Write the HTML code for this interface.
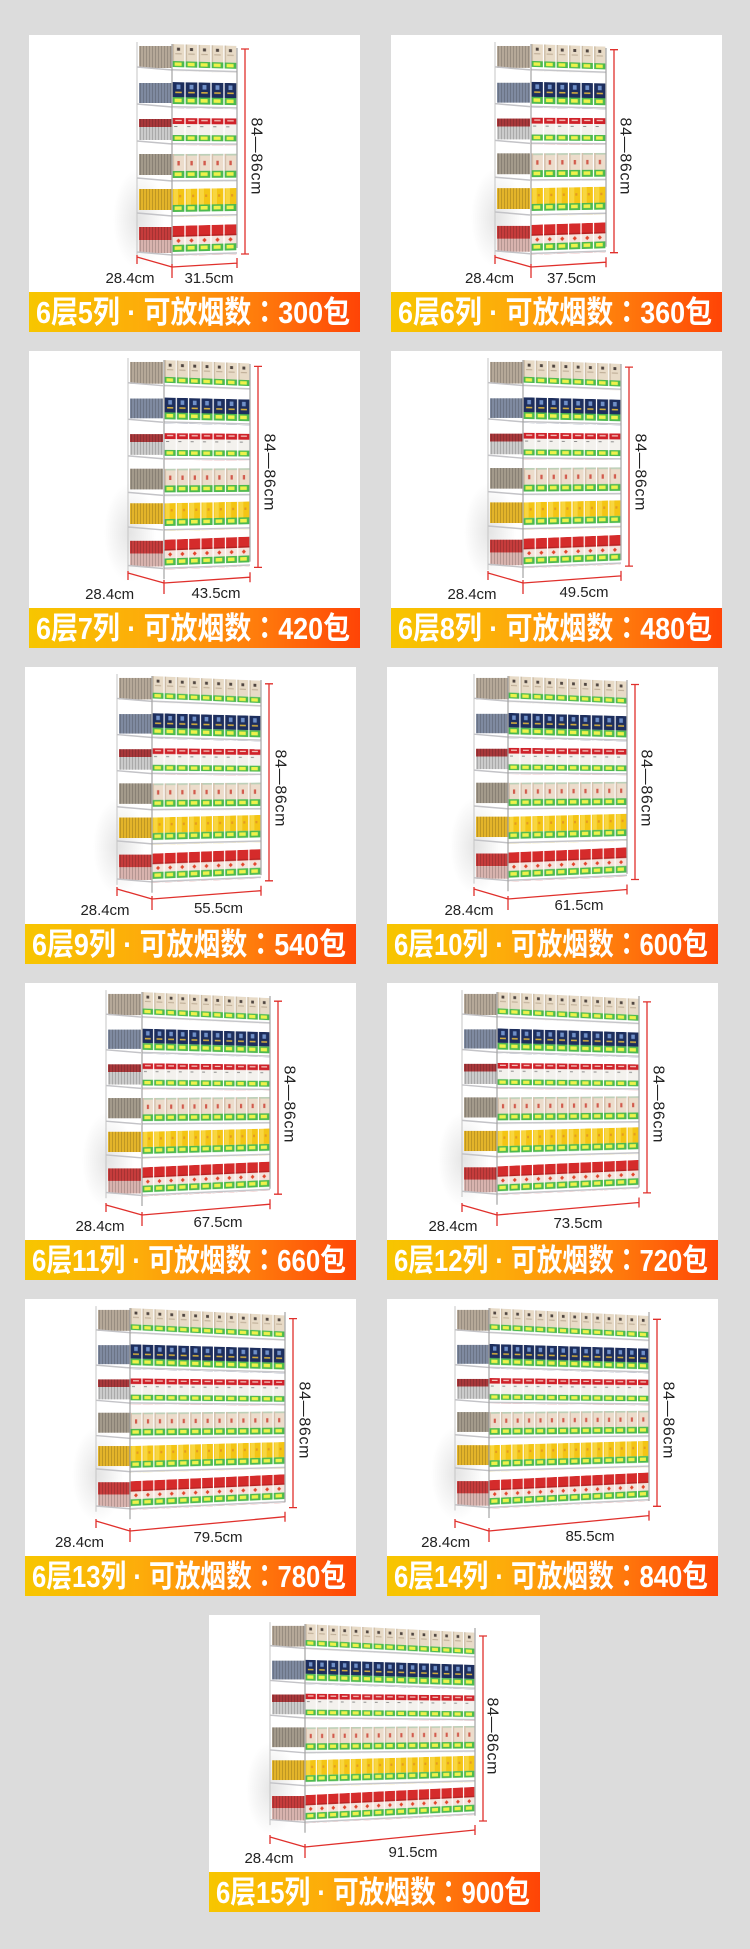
<!DOCTYPE html>
<html><head><meta charset="utf-8"><style>
html,body{margin:0;padding:0;background:#dcdcdc;}
svg{display:block;}
.l{font-family:"Liberation Sans",sans-serif;font-size:15px;fill:#222;text-anchor:middle;}
.v{font-family:"Liberation Sans",sans-serif;font-size:16px;fill:#222;text-anchor:middle;dominant-baseline:central;}
.b{font-family:"Liberation Sans","Noto Sans CJK SC",sans-serif;font-size:31px;font-weight:bold;fill:#fff;}
.c{font-family:"Noto Sans CJK TC","Noto Sans CJK JP",sans-serif;}
.fr{stroke:#a4a4a4;stroke-width:1.2;fill:none;}
.rd{stroke:#e0302c;stroke-width:1.3;fill:none;}
</style></head><body>
<svg width="750" height="1949" viewBox="0 0 750 1949" xmlns="http://www.w3.org/2000/svg">
<defs>
<linearGradient id="bn" x1="0" y1="0" x2="1" y2="0">
<stop offset="0" stop-color="#f7c600"/><stop offset=".35" stop-color="#fdac0a"/><stop offset=".7" stop-color="#ff7a0c"/><stop offset="1" stop-color="#ff4406"/>
</linearGradient>
<radialGradient id="sh"><stop offset="0" stop-color="#cfcfcf" stop-opacity=".55"/><stop offset="1" stop-color="#cfcfcf" stop-opacity="0"/></radialGradient>
<pattern id="st" width="3" height="10" patternUnits="userSpaceOnUse"><rect width="1" height="10" fill="#000" fill-opacity=".16"/></pattern>
<pattern id="p1" width="12" height="27" patternUnits="userSpaceOnUse">
<rect x=".6" width="10.8" height="17" fill="#e8dbc7"/><rect x=".6" width="1.3" height="17" fill="#cbbba5"/>
<rect x="4.6" y="3.5" width="2.8" height="3" fill="#4f4540"/><rect x="3" y="9" width="6" height="1.2" fill="#c2b19a"/>
<rect x=".6" y="17" width="10.8" height="6" fill="#4cb94e"/><rect x="2.4" y="18.3" width="6.5" height="3.4" fill="#eef24a"/>
<rect y="25" width="12" height="1.6" fill="#c5c5c9"/>
</pattern>
<pattern id="p2" width="12" height="26" patternUnits="userSpaceOnUse">
<rect x=".6" width="10.8" height="15" fill="#1d2e5d"/><rect x="4.2" y="2.5" width="3.6" height="4.5" fill="#7090c8"/>
<rect x="3" y="9.5" width="6" height="1.6" fill="#d4ae3e"/>
<rect x=".6" y="15" width="10.8" height="7" fill="#4cb94e"/><rect x="2.4" y="16.5" width="6.5" height="3.6" fill="#eef24a"/>
<rect y="24" width="12" height="1.6" fill="#c5c5c9"/>
</pattern>
<pattern id="p3" width="12" height="27" patternUnits="userSpaceOnUse">
<rect x=".6" width="10.8" height="6" fill="#cf2129"/><rect x="3" y="1.8" width="6" height="1.3" fill="#f2c8c0"/>
<rect x=".6" y="6" width="10.8" height="11" fill="#f3f1ed"/><rect x="2" y="8" width="3" height="1" fill="#8a8a8a"/>
<rect x=".6" y="17" width="10.8" height="6" fill="#4cb94e"/><rect x="2.4" y="18.3" width="6.5" height="3.4" fill="#eef24a"/>
<rect y="25" width="12" height="1.6" fill="#c5c5c9"/>
</pattern>
<pattern id="p4" width="12" height="28" patternUnits="userSpaceOnUse">
<rect x=".6" width="10.8" height="17" fill="#ecdccb"/><rect x=".6" width="10.8" height="1.8" fill="#bcd0b8"/>
<rect x=".6" width="1.4" height="17" fill="#d4c0ac"/><rect x="5" y="7" width="2.2" height="4.5" fill="#d25a4c"/>
<rect x=".6" y="17" width="10.8" height="7" fill="#4cb94e"/><rect x="2.4" y="18.5" width="6.5" height="3.6" fill="#eef24a"/>
<rect y="26" width="12" height="1.6" fill="#c5c5c9"/>
</pattern>
<pattern id="p5" width="12" height="28" patternUnits="userSpaceOnUse">
<rect x=".6" width="10.8" height="16" fill="#f4c514"/><rect x="1.5" width="4" height="16" fill="#f8d640"/>
<rect x="6.5" y="6" width="2" height="2.5" fill="#e49a22"/>
<rect x=".6" y="16" width="10.8" height="7" fill="#4cb94e"/><rect x="2.4" y="17.5" width="6.5" height="3.6" fill="#eef24a"/>
<rect y="26" width="12" height="1.6" fill="#c5c5c9"/>
</pattern>
<pattern id="p6" width="12" height="30" patternUnits="userSpaceOnUse">
<rect x=".6" width="10.8" height="11" fill="#d52b2b"/><rect x=".6" y="9.5" width="10.8" height="1.5" fill="#b52222"/>
<rect x=".6" y="11" width="10.8" height="8" fill="#f4e3dc"/><path d="M6 12.8L8 15L6 17.2L4 15Z" fill="#e2442a"/>
<rect x=".6" y="19" width="10.8" height="7" fill="#4cb94e"/><rect x="2.4" y="20.5" width="6.5" height="3.6" fill="#eef24a"/>
<rect y="28" width="12" height="1.6" fill="#c5c5c9"/>
</pattern>
<g id="side">
<ellipse cx="2" cy="175" rx="26" ry="50" fill="url(#sh)"/>
<rect x="2" y="2" width="33" height="22" fill="#b5a898"/>
<rect x="2" y="39" width="33" height="20" fill="#7f8aa0"/>
<rect x="2" y="75" width="33" height="8" fill="#a8383b"/>
<rect x="2" y="83" width="33" height="13" fill="#cbcbcb"/>
<rect x="2" y="110" width="33" height="21" fill="#a39a8b"/>
<rect x="2" y="145" width="33" height="21" fill="#e3b42a"/>
<rect x="2" y="183" width="33" height="13" fill="#c63c3c"/>
<rect x="2" y="196" width="33" height="13" fill="#d8b3ae"/>
<rect x="2" y="2" width="33" height="22" fill="url(#st)"/>
<rect x="2" y="39" width="33" height="20" fill="url(#st)"/>
<rect x="2" y="75" width="33" height="21" fill="url(#st)"/>
<rect x="2" y="110" width="33" height="21" fill="url(#st)"/>
<rect x="2" y="145" width="33" height="21" fill="url(#st)"/>
<rect x="2" y="183" width="33" height="26" fill="url(#st)"/>
<path d="M0 23L35 26M0 60L35 63M0 97L35 100M0 134L35 137M0 169L35 172M0 208L35 211" stroke="#c3c3c7" stroke-width="1.5" fill="none"/>
<path d="M0 -2V214" stroke="#c4c4c4" stroke-width="1" fill="none"/>
</g>
</defs>
<rect width="750" height="1949" fill="#dcdcdc"/>

<!-- Panel 1 -->
<rect x="29" y="35" width="331" height="297" fill="#fff"/>
<use href="#side" transform="translate(137,44)"/>
<rect width="60" height="27" fill="url(#p1)" transform="matrix(1.083 .031 0 1 172 44)"/>
<rect width="60" height="26" fill="url(#p2)" transform="matrix(1.083 .019 0 1 172 82)"/>
<rect width="60" height="27" fill="url(#p3)" transform="matrix(1.083 .0065 0 1 172 118)"/>
<rect width="60" height="28" fill="url(#p4)" transform="matrix(1.083 -.0057 0 1 172 154)"/>
<rect width="60" height="28" fill="url(#p5)" transform="matrix(1.083 -.017 0 1 172 189)"/>
<rect width="60" height="30" fill="url(#p6)" transform="matrix(1.083 -.03 0 1 172 226)"/>
<path class="fr" d="M172 44V266M237 48V248"/>
<path class="rd" d="M245 49V254M241 49H249M241 254H249M137 255V264M137 257L172 267M172 264V278M172 267L237 263.1M237 258V268"/>
<text class="v" transform="translate(256,156) rotate(90)" textLength="77">84—86cm</text>
<text class="l" x="130" y="283" textLength="49">28.4cm</text>
<text class="l" x="209" y="283" textLength="49">31.5cm</text>
<rect x="29" y="292" width="331" height="40" fill="url(#bn)"/>
<text class="b" x="36" y="323" textLength="314" lengthAdjust="spacingAndGlyphs">6层5列 · 可放烟数<tspan class="c">：</tspan>300包</text>

<!-- Panel 2 -->
<rect x="391" y="35" width="331" height="297" fill="#fff"/>
<use href="#side" transform="translate(495,44) scale(1,.994)"/>
<rect width="72" height="27" fill="url(#p1)" transform="matrix(1.042 .036 0 .994 531 44)"/>
<rect width="72" height="26" fill="url(#p2)" transform="matrix(1.042 .022 0 .994 531 81.8)"/>
<rect width="72" height="27" fill="url(#p3)" transform="matrix(1.042 .0075 0 .994 531 117.6)"/>
<rect width="72" height="28" fill="url(#p4)" transform="matrix(1.042 -.0066 0 .994 531 153.3)"/>
<rect width="72" height="28" fill="url(#p5)" transform="matrix(1.042 -.02 0 .994 531 188.1)"/>
<rect width="72" height="30" fill="url(#p6)" transform="matrix(1.042 -.035 0 .994 531 224.9)"/>
<path class="fr" d="M531 44V264.7M606 48V246.8"/>
<path class="rd" d="M614 49.7V252.7M610 49.7H618M610 252.7H618M495 255V264M495 257L531 267M531 264V278M531 267L606 262.2M606 257.2V267.2"/>
<text class="v" transform="translate(625,156) rotate(90)" textLength="77">84—86cm</text>
<text class="l" x="489.5" y="283" textLength="49">28.4cm</text>
<text class="l" x="571.5" y="283" textLength="49">37.5cm</text>
<rect x="391" y="292" width="331" height="40" fill="url(#bn)"/>
<text class="b" x="398" y="323" textLength="314" lengthAdjust="spacingAndGlyphs">6层6列 · 可放烟数<tspan class="c">：</tspan>360包</text>

<!-- Panel 3 -->
<rect x="29" y="351" width="331" height="297" fill="#fff"/>
<use href="#side" transform="translate(128,360) scale(1,.988)"/>
<rect width="84" height="27" fill="url(#p1)" transform="matrix(1.024 .04 0 .988 164 360)"/>
<rect width="84" height="26" fill="url(#p2)" transform="matrix(1.024 .024 0 .988 164 397.5)"/>
<rect width="84" height="27" fill="url(#p3)" transform="matrix(1.024 .0083 0 .988 164 433.1)"/>
<rect width="84" height="28" fill="url(#p4)" transform="matrix(1.024 -.0072 0 .988 164 468.7)"/>
<rect width="84" height="28" fill="url(#p5)" transform="matrix(1.024 -.022 0 .988 164 503.3)"/>
<rect width="84" height="30" fill="url(#p6)" transform="matrix(1.024 -.038 0 .988 164 539.8)"/>
<path class="fr" d="M164 360V579.3M250 364V561.6"/>
<path class="rd" d="M258 366.4V567.4M254 366.4H262M254 567.4H262M128 571V580M128 573L164 583M164 580V594M164 583L250 577.2M250 572.2V582.2"/>
<text class="v" transform="translate(269,472) rotate(90)" textLength="77">84—86cm</text>
<text class="l" x="109.6" y="599" textLength="49">28.4cm</text>
<text class="l" x="216" y="598" textLength="49">43.5cm</text>
<rect x="29" y="608" width="331" height="40" fill="url(#bn)"/>
<text class="b" x="36" y="639" textLength="314" lengthAdjust="spacingAndGlyphs">6层7列 · 可放烟数<tspan class="c">：</tspan>420包</text>

<!-- Panel 4 -->
<rect x="391" y="351" width="331" height="297" fill="#fff"/>
<use href="#side" transform="translate(488,360) scale(1,.982)"/>
<rect width="96" height="27" fill="url(#p1)" transform="matrix(1.021 .041 0 .982 523 360)"/>
<rect width="96" height="26" fill="url(#p2)" transform="matrix(1.021 .025 0 .982 523 397.3)"/>
<rect width="96" height="27" fill="url(#p3)" transform="matrix(1.021 .0086 0 .982 523 432.7)"/>
<rect width="96" height="28" fill="url(#p4)" transform="matrix(1.021 -.0075 0 .982 523 468)"/>
<rect width="96" height="28" fill="url(#p5)" transform="matrix(1.021 -.023 0 .982 523 502.4)"/>
<rect width="96" height="30" fill="url(#p6)" transform="matrix(1.021 -.04 0 .982 523 538.7)"/>
<path class="fr" d="M523 360V578M621 364V560.3"/>
<path class="rd" d="M629 367.1V566.1M625 367.1H633M625 566.1H633M488 571V580M488 573L523 583M523 580V594M523 583L621 575.9M621 570.9V580.9"/>
<text class="v" transform="translate(640,472) rotate(90)" textLength="77">84—86cm</text>
<text class="l" x="472" y="599" textLength="49">28.4cm</text>
<text class="l" x="584" y="597" textLength="49">49.5cm</text>
<rect x="391" y="608" width="331" height="40" fill="url(#bn)"/>
<text class="b" x="398" y="639" textLength="314" lengthAdjust="spacingAndGlyphs">6层8列 · 可放烟数<tspan class="c">：</tspan>480包</text>

<!-- Panel 5 -->
<rect x="25" y="667" width="331" height="297" fill="#fff"/>
<use href="#side" transform="translate(117,676) scale(1,.976)"/>
<rect width="108" height="27" fill="url(#p1)" transform="matrix(1.009 .043 0 .976 152 676)"/>
<rect width="108" height="26" fill="url(#p2)" transform="matrix(1.009 .026 0 .976 152 713.1)"/>
<rect width="108" height="27" fill="url(#p3)" transform="matrix(1.009 .009 0 .976 152 748.2)"/>
<rect width="108" height="28" fill="url(#p4)" transform="matrix(1.009 -.0078 0 .976 152 783.4)"/>
<rect width="108" height="28" fill="url(#p5)" transform="matrix(1.009 -.024 0 .976 152 817.5)"/>
<rect width="108" height="30" fill="url(#p6)" transform="matrix(1.009 -.0415 0 .976 152 853.6)"/>
<path class="fr" d="M152 676V892.7M261 680V875.1"/>
<path class="rd" d="M269 683.8V880.8M265 683.8H273M265 880.8H273M117 887V896M117 889L152 899M152 896V910M152 899L261 890.7M261 885.7V895.7"/>
<text class="v" transform="translate(280,788) rotate(90)" textLength="77">84—86cm</text>
<text class="l" x="105" y="915" textLength="49">28.4cm</text>
<text class="l" x="218.5" y="913" textLength="49">55.5cm</text>
<rect x="25" y="924" width="331" height="40" fill="url(#bn)"/>
<text class="b" x="32" y="955" textLength="314" lengthAdjust="spacingAndGlyphs">6层9列 · 可放烟数<tspan class="c">：</tspan>540包</text>

<!-- Panel 6 -->
<rect x="387" y="667" width="331" height="297" fill="#fff"/>
<use href="#side" transform="translate(474,676) scale(1,.97)"/>
<rect width="120" height="27" fill="url(#p1)" transform="matrix(.992 .045 0 .97 508 676)"/>
<rect width="120" height="26" fill="url(#p2)" transform="matrix(.992 .027 0 .97 508 712.9)"/>
<rect width="120" height="27" fill="url(#p3)" transform="matrix(.992 .0093 0 .97 508 747.8)"/>
<rect width="120" height="28" fill="url(#p4)" transform="matrix(.992 -.0081 0 .97 508 782.7)"/>
<rect width="120" height="28" fill="url(#p5)" transform="matrix(.992 -.025 0 .97 508 816.7)"/>
<rect width="120" height="30" fill="url(#p6)" transform="matrix(.992 -.043 0 .97 508 852.5)"/>
<path class="fr" d="M508 676V891.3M627 680V873.9"/>
<path class="rd" d="M635 684.5V879.5M631 684.5H639M631 879.5H639M474 887V896M474 889L508 899M508 896V910M508 899L627 889.5M627 884.5V894.5"/>
<text class="v" transform="translate(646,788) rotate(90)" textLength="77">84—86cm</text>
<text class="l" x="469" y="915" textLength="49">28.4cm</text>
<text class="l" x="579" y="910" textLength="49">61.5cm</text>
<rect x="387" y="924" width="331" height="40" fill="url(#bn)"/>
<text class="b" x="394" y="955" textLength="314" lengthAdjust="spacingAndGlyphs">6层10列 · 可放烟数<tspan class="c">：</tspan>600包</text>

<!-- Panel 7 -->
<rect x="25" y="983" width="331" height="297" fill="#fff"/>
<use href="#side" transform="translate(106,992) scale(1,.964)"/>
<rect width="132" height="27" fill="url(#p1)" transform="matrix(.97 .046 0 .964 142 992)"/>
<rect width="132" height="26" fill="url(#p2)" transform="matrix(.97 .027 0 .964 142 1028.6)"/>
<rect width="132" height="27" fill="url(#p3)" transform="matrix(.97 .0095 0 .964 142 1063.3)"/>
<rect width="132" height="28" fill="url(#p4)" transform="matrix(.97 -.0083 0 .964 142 1098)"/>
<rect width="132" height="28" fill="url(#p5)" transform="matrix(.97 -.025 0 .964 142 1131.8)"/>
<rect width="132" height="30" fill="url(#p6)" transform="matrix(.97 -.044 0 .964 142 1167.4)"/>
<path class="fr" d="M142 992V1206M270 996V1188.7"/>
<path class="rd" d="M278 1001.2V1194.2M274 1001.2H282M274 1194.2H282M106 1203V1212M106 1205L142 1215M142 1212V1226M142 1215L270 1204.2M270 1199.2V1209.2"/>
<text class="v" transform="translate(289,1104) rotate(90)" textLength="77">84—86cm</text>
<text class="l" x="100" y="1231" textLength="49">28.4cm</text>
<text class="l" x="218" y="1227" textLength="49">67.5cm</text>
<rect x="25" y="1240" width="331" height="40" fill="url(#bn)"/>
<text class="b" x="32" y="1271" textLength="314" lengthAdjust="spacingAndGlyphs">6层11列 · 可放烟数<tspan class="c">：</tspan>660包</text>

<!-- Panel 8 -->
<rect x="387" y="983" width="331" height="297" fill="#fff"/>
<use href="#side" transform="translate(462,992) scale(1,.958)"/>
<rect width="144" height="27" fill="url(#p1)" transform="matrix(.986 .047 0 .958 497 992)"/>
<rect width="144" height="26" fill="url(#p2)" transform="matrix(.986 .028 0 .958 497 1028.4)"/>
<rect width="144" height="27" fill="url(#p3)" transform="matrix(.986 .0097 0 .958 497 1062.9)"/>
<rect width="144" height="28" fill="url(#p4)" transform="matrix(.986 -.0085 0 .958 497 1097.4)"/>
<rect width="144" height="28" fill="url(#p5)" transform="matrix(.986 -.026 0 .958 497 1130.9)"/>
<rect width="144" height="30" fill="url(#p6)" transform="matrix(.986 -.045 0 .958 497 1166.4)"/>
<path class="fr" d="M497 992V1204.7M639 996V1187.4"/>
<path class="rd" d="M647 1001.9V1192.9M643 1001.9H651M643 1192.9H651M462 1203V1212M462 1205L497 1215M497 1212V1226M497 1215L639 1202.5M639 1197.5V1207.5"/>
<text class="v" transform="translate(658,1104) rotate(90)" textLength="77">84—86cm</text>
<text class="l" x="453" y="1231" textLength="49">28.4cm</text>
<text class="l" x="578" y="1228" textLength="49">73.5cm</text>
<rect x="387" y="1240" width="331" height="40" fill="url(#bn)"/>
<text class="b" x="394" y="1271" textLength="314" lengthAdjust="spacingAndGlyphs">6层12列 · 可放烟数<tspan class="c">：</tspan>720包</text>

<!-- Panel 9 -->
<rect x="25" y="1299" width="331" height="297" fill="#fff"/>
<use href="#side" transform="translate(96,1308) scale(1,.952)"/>
<rect width="156" height="27" fill="url(#p1)" transform="matrix(.994 .047 0 .952 130 1308)"/>
<rect width="156" height="26" fill="url(#p2)" transform="matrix(.994 .028 0 .952 130 1344.2)"/>
<rect width="156" height="27" fill="url(#p3)" transform="matrix(.994 .0098 0 .952 130 1378.4)"/>
<rect width="156" height="28" fill="url(#p4)" transform="matrix(.994 -.0085 0 .952 130 1412.7)"/>
<rect width="156" height="28" fill="url(#p5)" transform="matrix(.994 -.026 0 .952 130 1446)"/>
<rect width="156" height="30" fill="url(#p6)" transform="matrix(.994 -.045 0 .952 130 1481.3)"/>
<path class="fr" d="M130 1308V1519.3M285 1312V1502.2"/>
<path class="rd" d="M293 1318.6V1507.6M289 1318.6H297M289 1507.6H297M96 1519V1528M96 1521L130 1531M130 1528V1542M130 1531L285 1516.7M285 1511.7V1521.7"/>
<text class="v" transform="translate(304,1420) rotate(90)" textLength="77">84—86cm</text>
<text class="l" x="79.5" y="1547" textLength="49">28.4cm</text>
<text class="l" x="218" y="1542" textLength="49">79.5cm</text>
<rect x="25" y="1556" width="331" height="40" fill="url(#bn)"/>
<text class="b" x="32" y="1587" textLength="314" lengthAdjust="spacingAndGlyphs">6层13列 · 可放烟数<tspan class="c">：</tspan>780包</text>

<!-- Panel 10 -->
<rect x="387" y="1299" width="331" height="297" fill="#fff"/>
<use href="#side" transform="translate(455,1308) scale(1,.946)"/>
<rect width="168" height="27" fill="url(#p1)" transform="matrix(.952 .047 0 .946 489 1308)"/>
<rect width="168" height="26" fill="url(#p2)" transform="matrix(.952 .028 0 .946 489 1343.9)"/>
<rect width="168" height="27" fill="url(#p3)" transform="matrix(.952 .0099 0 .946 489 1378)"/>
<rect width="168" height="28" fill="url(#p4)" transform="matrix(.952 -.0086 0 .946 489 1412.1)"/>
<rect width="168" height="28" fill="url(#p5)" transform="matrix(.952 -.026 0 .946 489 1445.2)"/>
<rect width="168" height="30" fill="url(#p6)" transform="matrix(.952 -.046 0 .946 489 1480.2)"/>
<path class="fr" d="M489 1308V1518M649 1312V1501"/>
<path class="rd" d="M657 1319.3V1506.3M653 1319.3H661M653 1506.3H661M455 1519V1528M455 1521L489 1531M489 1528V1542M489 1531L649 1515.6M649 1510.6V1520.6"/>
<text class="v" transform="translate(668,1420) rotate(90)" textLength="77">84—86cm</text>
<text class="l" x="445.6" y="1547" textLength="49">28.4cm</text>
<text class="l" x="590" y="1541" textLength="49">85.5cm</text>
<rect x="387" y="1556" width="331" height="40" fill="url(#bn)"/>
<text class="b" x="394" y="1587" textLength="314" lengthAdjust="spacingAndGlyphs">6层14列 · 可放烟数<tspan class="c">：</tspan>840包</text>

<!-- Panel 11 -->
<rect x="209" y="1615" width="331" height="297" fill="#fff"/>
<use href="#side" transform="translate(270,1624) scale(1,.94)"/>
<rect width="180" height="27" fill="url(#p1)" transform="matrix(.944 .048 0 .94 305 1624)"/>
<rect width="180" height="26" fill="url(#p2)" transform="matrix(.944 .029 0 .94 305 1659.7)"/>
<rect width="180" height="27" fill="url(#p3)" transform="matrix(.944 .01 0 .94 305 1693.6)"/>
<rect width="180" height="28" fill="url(#p4)" transform="matrix(.944 -.0087 0 .94 305 1727.4)"/>
<rect width="180" height="28" fill="url(#p5)" transform="matrix(.944 -.026 0 .94 305 1760.3)"/>
<rect width="180" height="30" fill="url(#p6)" transform="matrix(.944 -.046 0 .94 305 1795.1)"/>
<path class="fr" d="M305 1624V1832.7M475 1628V1815.8"/>
<path class="rd" d="M483 1636V1821M479 1636H487M479 1821H487M270 1835V1844M270 1837L305 1847M305 1844V1858M305 1847L475 1830M475 1825V1835"/>
<text class="v" transform="translate(492,1736) rotate(90)" textLength="77">84—86cm</text>
<text class="l" x="269" y="1863" textLength="49">28.4cm</text>
<text class="l" x="413" y="1857" textLength="49">91.5cm</text>
<rect x="209" y="1872" width="331" height="40" fill="url(#bn)"/>
<text class="b" x="216" y="1903" textLength="314" lengthAdjust="spacingAndGlyphs">6层15列 · 可放烟数<tspan class="c">：</tspan>900包</text>
</svg>
</body></html>
